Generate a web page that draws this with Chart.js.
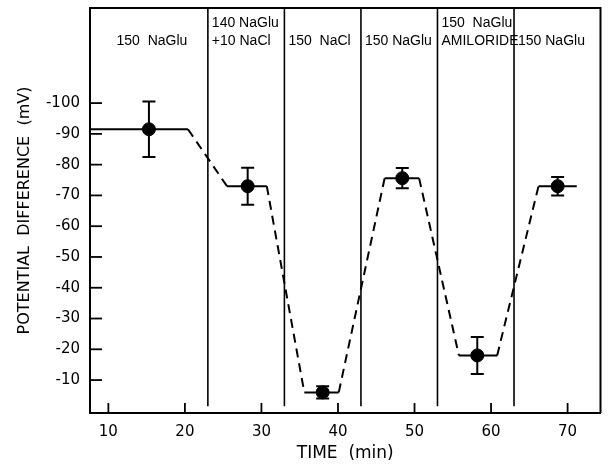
<!DOCTYPE html>
<html>
<head>
<meta charset="utf-8">
<script src="https://cdn.jsdelivr.net/npm/chart.js@4.4.1/dist/chart.umd.min.js"></script>
<style>
  html, body { margin: 0; padding: 0; background: #fff; }
</style>
</head>
<body>
<canvas id="chart" width="608" height="464"></canvas>
<script>
// measured points (mean +/- error), time in min, PD in mV
const timeMin = [15.3, 28.2, 38.0, 48.4, 58.2, 68.7];
const pdMean = [-91.5, -73, -6, -75.6, -18, -73];
const pdErr = [9, 6, 2, 3.3, 6, 3];

// dashed trace joining the plateaus
const traceX = [7.6, 20.4, 25.5, 30.7, 35.6, 40.1, 46.1, 50.6, 55.8, 60.8, 66.2, 71.2];
const traceY = [-91.5, -91.5, -73, -73, -6, -6, -75.6, -75.6, -18, -18, -73, -73];

// solution changes
const dividers = [23, 33, 43, 53, 63];
const regionLabels = [
    ['150  NaGlu'],
    ['140 NaGlu', '+10 NaCl'],
    ['150  NaCl'],
    ['150 NaGlu'],
    ['150  NaGlu', 'AMILORIDE'],
    ['150 NaGlu']
];

const xTicks = [10, 20, 30, 40, 50, 60, 70];
const yTicks = [-100, -90, -80, -70, -60, -50, -40, -30, -20, -10];

const xMin = 7.6, xMax = 74.3;
const yMin = -130.9, yMax = 0.7;
const FONT = 'DejaVu Sans';
const LABEL_FONT = 'Liberation Sans';

const ctx = document.getElementById('chart').getContext('2d');

const traceData = traceX.map((x, i) => ({x: x, y: traceY[i]}));
const pointData = timeMin.map((x, i) => ({x: x, y: pdMean[i]}));

const dividerSets = dividers.map(d => ({
    type: 'line',
    data: [{x: d, y: yMin}, {x: d, y: -1.5}],
    borderColor: '#000',
    borderWidth: 1.6,
    pointRadius: 0,
    order: 3
}));

// error bars, inner tick marks, frame and solution labels
const extras = {
    id: 'extras',
    afterDatasetsDraw(chart) {
        const c = chart.ctx;
        const xs = chart.scales.x;
        const ys = chart.scales.y;
        const area = chart.chartArea;
        c.save();
        c.strokeStyle = '#000';
        c.lineWidth = 2;

        // error bars
        timeMin.forEach((t, i) => {
            const px = xs.getPixelForValue(t);
            const top = ys.getPixelForValue(pdMean[i] - pdErr[i]);
            const bot = ys.getPixelForValue(pdMean[i] + pdErr[i]);
            c.beginPath();
            c.moveTo(px, top); c.lineTo(px, bot);
            c.moveTo(px - 6.5, top); c.lineTo(px + 6.5, top);
            c.moveTo(px - 6.5, bot); c.lineTo(px + 6.5, bot);
            c.stroke();
        });

        // inner ticks
        c.lineWidth = 1.8;
        yTicks.forEach(v => {
            const py = ys.getPixelForValue(v);
            c.beginPath();
            c.moveTo(area.left, py); c.lineTo(area.left + 12, py);
            c.stroke();
        });
        xTicks.forEach(v => {
            const px = xs.getPixelForValue(v);
            c.beginPath();
            c.moveTo(px, area.bottom); c.lineTo(px, area.bottom - 10);
            c.stroke();
        });

        // top and right frame
        c.lineWidth = 2;
        c.beginPath();
        c.moveTo(area.left, area.top);
        c.lineTo(area.right, area.top);
        c.lineTo(area.right, area.bottom);
        c.stroke();

        // solution labels: first one centred, the rest start just right of the divider
        const bounds = [xMin].concat(dividers, [xMax]);
        c.fillStyle = '#000';
        c.font = '14px "' + LABEL_FONT + '"';
        c.textBaseline = 'middle';
        regionLabels.forEach((lines, i) => {
            let px;
            if (i === 0) {
                c.textAlign = 'center';
                px = xs.getPixelForValue((bounds[0] + bounds[1]) / 2) + 3;
            } else {
                c.textAlign = 'left';
                px = xs.getPixelForValue(bounds[i]) + 4;
            }
            if (lines.length === 1) {
                c.fillText(lines[0], px, area.top + 33);
            } else {
                c.fillText(lines[0], px, area.top + 15);
                c.fillText(lines[1], px, area.top + 33);
            }
        });
        c.restore();
    }
};

new Chart(ctx, {
    type: 'scatter',
    data: {
        datasets: [
            {
                type: 'line',
                data: traceData,
                borderColor: '#000',
                borderWidth: 2,
                pointRadius: 0,
                fill: false,
                tension: 0,
                segment: {
                    borderDash: c => c.p0.parsed.y === c.p1.parsed.y ? [] : [9, 6]
                },
                order: 2
            },
            {
                data: pointData,
                backgroundColor: '#000',
                borderColor: '#000',
                pointRadius: 6.5,
                order: 1
            }
        ].concat(dividerSets)
    },
    options: {
        responsive: false,
        animation: false,
        layout: { padding: { top: 8, right: 3, left: 0, bottom: 0 } },
        plugins: {
            legend: { display: false },
            tooltip: { enabled: false }
        },
        scales: {
            x: {
                type: 'linear',
                min: xMin,
                max: xMax,
                afterBuildTicks: s => { s.ticks = xTicks.map(v => ({value: v})); },
                afterFit: s => { s.height = 51; s.paddingLeft = 0; s.paddingRight = 0; },
                grid: { display: false, drawTicks: false },
                border: { display: true, color: '#000', width: 2 },
                ticks: {
                    color: '#000',
                    padding: 10,
                    font: { family: FONT, size: 15 },
                    maxRotation: 0
                },
                title: {
                    display: true,
                    text: 'TIME  (min)',
                    color: '#000',
                    font: { family: FONT, size: 17 },
                    padding: { top: 0, bottom: 0 }
                }
            },
            y: {
                type: 'linear',
                reverse: true,
                min: yMin,
                max: yMax,
                afterBuildTicks: s => { s.ticks = yTicks.map(v => ({value: v})); },
                afterFit: s => { s.width = 90; s.paddingTop = 0; s.paddingBottom = 0; },
                grid: { display: false, drawTicks: false },
                border: { display: true, color: '#000', width: 2 },
                ticks: {
                    color: '#000',
                    padding: 10,
                    font: { family: FONT, size: 15 }
                },
                title: {
                    display: true,
                    text: 'POTENTIAL  DIFFERENCE  (mV)',
                    color: '#000',
                    font: { family: FONT, size: 16 },
                    padding: { top: 15, bottom: 0 }
                }
            }
        }
    },
    plugins: [extras]
});
</script>
</body>
</html>
